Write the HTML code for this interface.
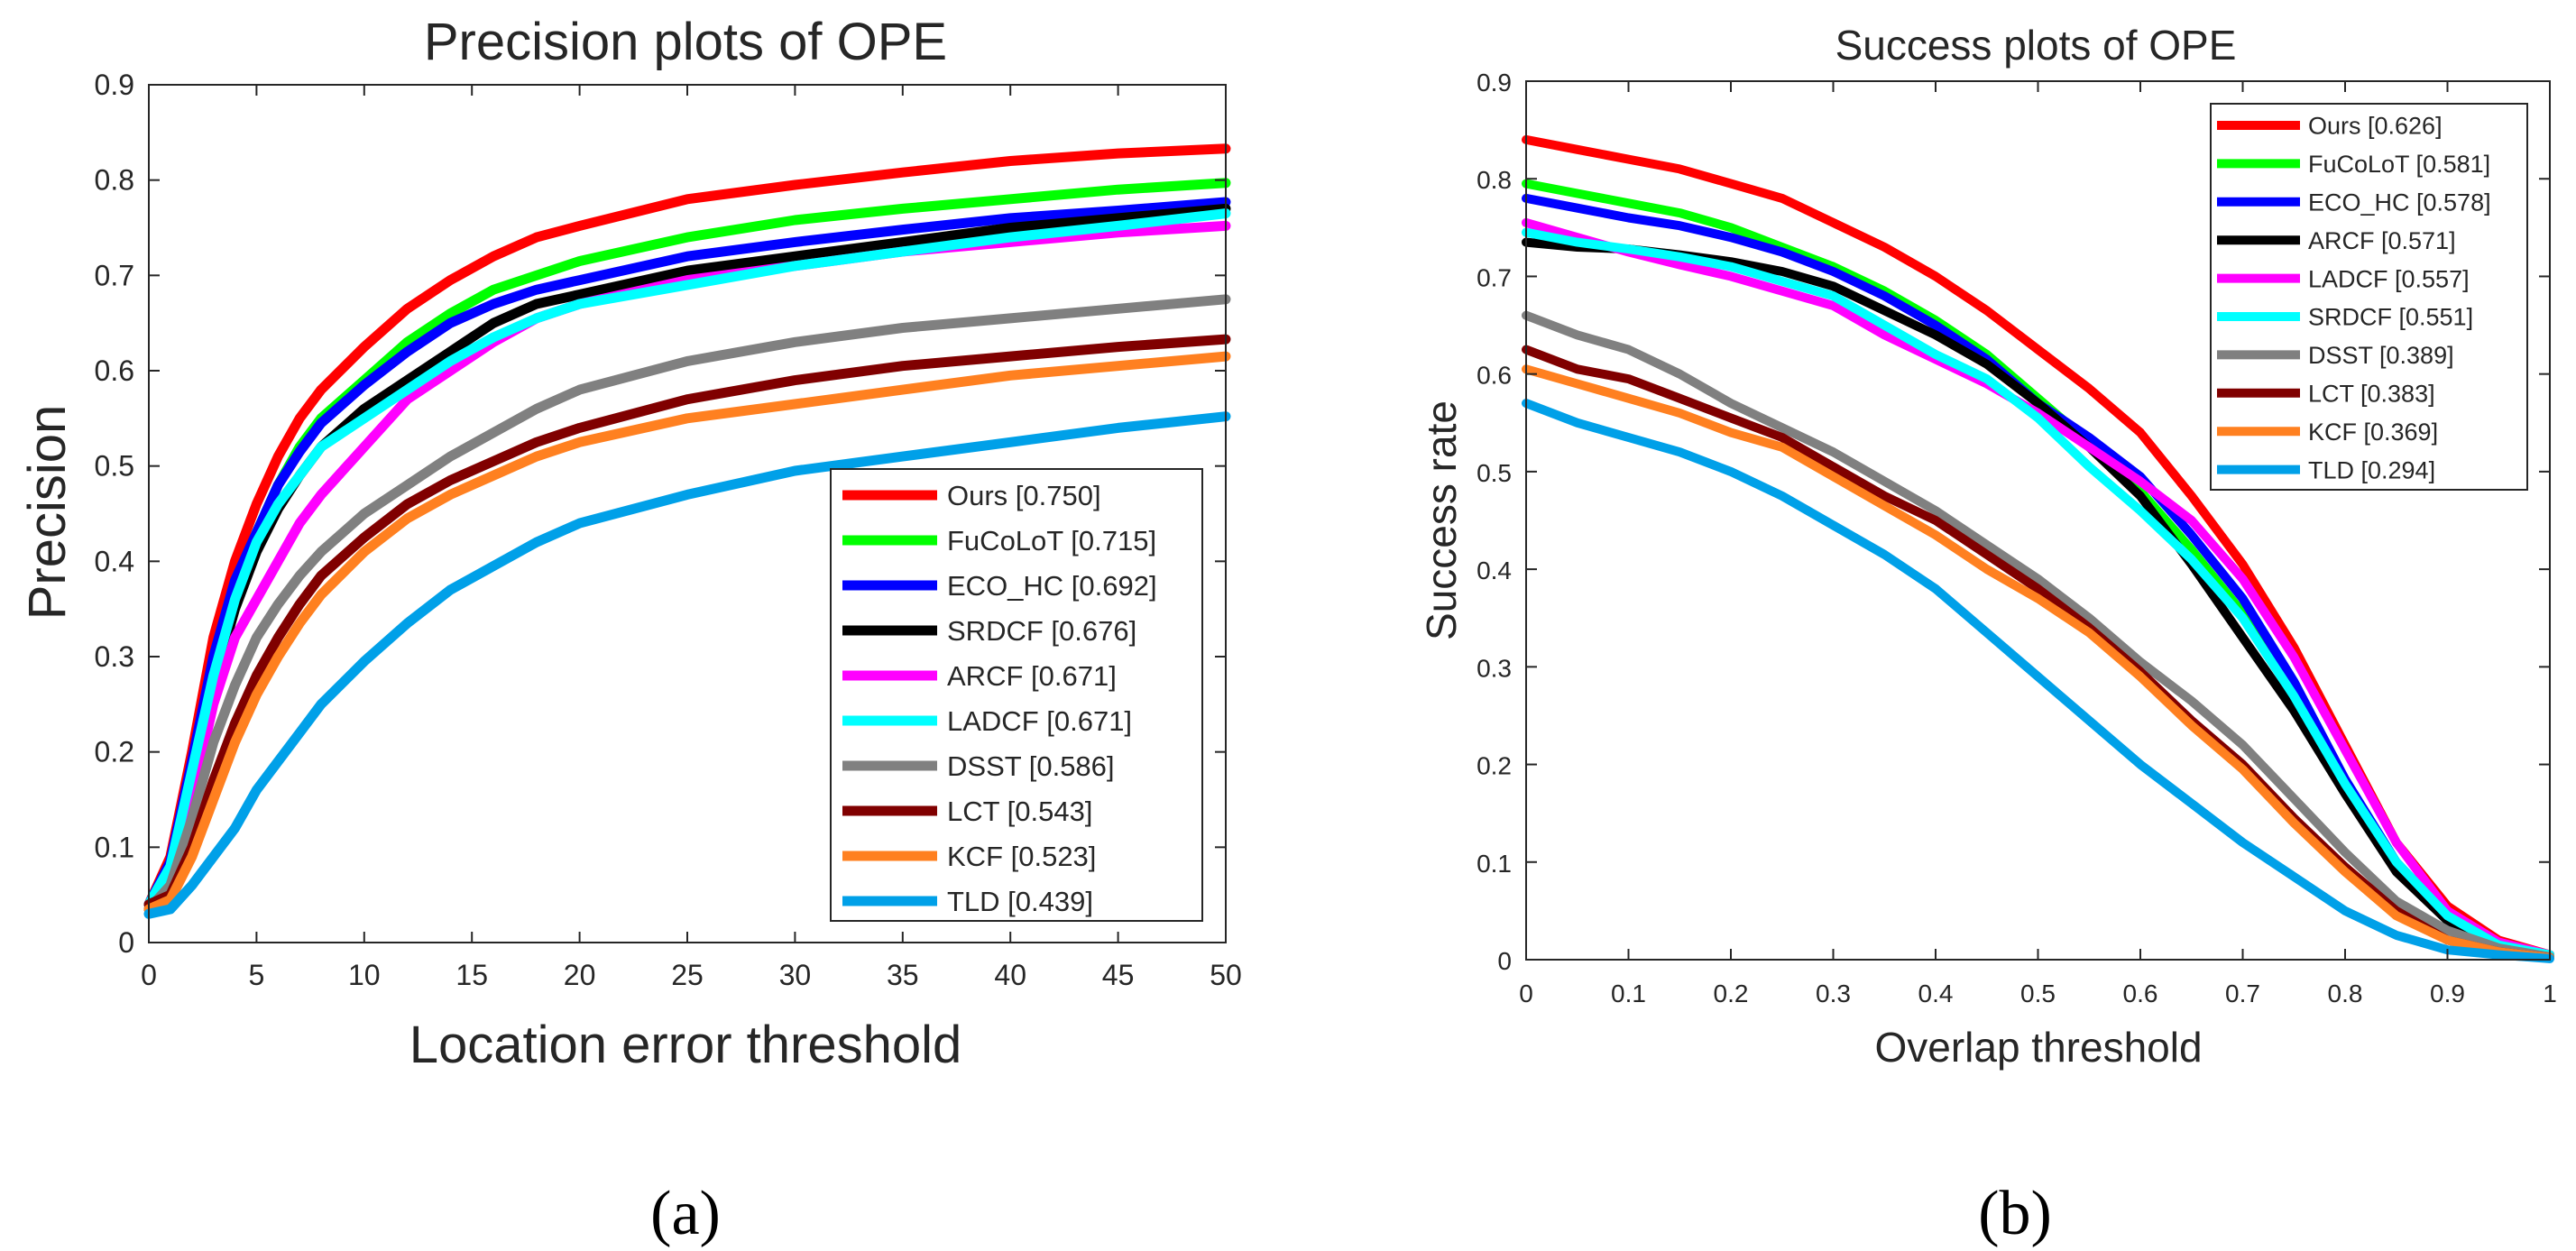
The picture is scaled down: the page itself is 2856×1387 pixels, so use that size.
<!DOCTYPE html>
<html><head><meta charset="utf-8"><style>
html,body{margin:0;padding:0;background:#fff;}
svg{display:block;}
text{font-family:"Liberation Sans",sans-serif;fill:#262626;}
</style></head><body>
<svg id="fig" width="2856" height="1387" viewBox="0 0 2856 1387" xmlns="http://www.w3.org/2000/svg"></svg>
<script>
const precX=[0,1,2,3,4,5,6,7,8,10,12,14,16,18,20,25,30,35,40,45,50];
const precNames=["Ours [0.750]","FuCoLoT [0.715]","ECO_HC [0.692]","SRDCF [0.676]","ARCF [0.671]","LADCF [0.671]","DSST [0.586]","LCT [0.543]","KCF [0.523]","TLD [0.439]"];
const precOurs=[0.04,0.09,0.2,0.32,0.40,0.46,0.51,0.55,0.58,0.625,0.665,0.695,0.72,0.74,0.752,0.78,0.795,0.808,0.82,0.828,0.833];
const precFuCoLoT=[0.035,0.08,0.18,0.29,0.37,0.43,0.48,0.52,0.55,0.59,0.63,0.66,0.685,0.70,0.715,0.74,0.758,0.77,0.78,0.79,0.797];
const precECO=[0.04,0.085,0.19,0.30,0.38,0.43,0.48,0.515,0.545,0.585,0.62,0.65,0.67,0.685,0.695,0.72,0.735,0.748,0.76,0.768,0.777];
const precSRDCF=[0.035,0.07,0.16,0.27,0.35,0.41,0.455,0.49,0.52,0.56,0.59,0.62,0.65,0.67,0.68,0.705,0.72,0.735,0.75,0.76,0.77];
const precARCF=[0.04,0.07,0.15,0.25,0.32,0.36,0.40,0.44,0.47,0.52,0.57,0.60,0.63,0.655,0.67,0.695,0.71,0.725,0.735,0.745,0.752];
const precLADCF=[0.04,0.08,0.18,0.28,0.36,0.42,0.46,0.49,0.52,0.55,0.58,0.61,0.635,0.655,0.67,0.69,0.71,0.725,0.74,0.752,0.765];
const precDSST=[0.035,0.06,0.13,0.21,0.27,0.32,0.355,0.385,0.41,0.45,0.48,0.51,0.535,0.56,0.58,0.61,0.63,0.645,0.655,0.665,0.675];
const precLCT=[0.04,0.05,0.1,0.17,0.23,0.28,0.32,0.355,0.385,0.425,0.46,0.485,0.505,0.525,0.54,0.57,0.59,0.605,0.615,0.625,0.633];
const precKCF=[0.035,0.045,0.09,0.15,0.21,0.26,0.30,0.335,0.365,0.41,0.445,0.47,0.49,0.51,0.525,0.55,0.565,0.58,0.595,0.605,0.615];
const precTLD=[0.03,0.035,0.06,0.09,0.12,0.16,0.19,0.22,0.25,0.295,0.335,0.37,0.395,0.42,0.44,0.47,0.495,0.51,0.525,0.54,0.552];
const precXTicks=[0,5,10,15,20,25,30,35,40,45,50];
const yTicks=[0,0.1,0.2,0.3,0.4,0.5,0.6,0.7,0.8,0.9];

const succX=[0,0.05,0.1,0.15,0.2,0.25,0.3,0.35,0.4,0.45,0.5,0.55,0.6,0.65,0.7,0.75,0.8,0.85,0.9,0.95,1];
const succNames=["Ours [0.626]","FuCoLoT [0.581]","ECO_HC [0.578]","ARCF [0.571]","LADCF [0.557]","SRDCF [0.551]","DSST [0.389]","LCT [0.383]","KCF [0.369]","TLD [0.294]"];
const succOurs=[0.84,0.83,0.82,0.81,0.795,0.78,0.755,0.73,0.70,0.665,0.625,0.585,0.54,0.475,0.405,0.32,0.22,0.12,0.055,0.02,0.005];
const succFuCoLoT=[0.795,0.785,0.775,0.765,0.75,0.73,0.71,0.685,0.655,0.62,0.575,0.53,0.48,0.42,0.355,0.27,0.18,0.095,0.045,0.015,0.005];
const succECO=[0.78,0.77,0.76,0.752,0.74,0.725,0.705,0.68,0.65,0.615,0.57,0.535,0.495,0.435,0.37,0.285,0.185,0.1,0.045,0.015,0.005];
const succARCF=[0.735,0.73,0.728,0.722,0.715,0.705,0.69,0.665,0.64,0.61,0.57,0.525,0.475,0.405,0.33,0.255,0.17,0.09,0.04,0.015,0.005];
const succLADCF=[0.755,0.74,0.725,0.712,0.70,0.685,0.67,0.64,0.615,0.59,0.56,0.525,0.49,0.45,0.39,0.31,0.215,0.12,0.05,0.018,0.005];
const succSRDCF=[0.745,0.735,0.728,0.72,0.71,0.695,0.68,0.65,0.62,0.595,0.555,0.505,0.46,0.41,0.35,0.27,0.18,0.1,0.045,0.015,0.005];
const succDSST=[0.66,0.64,0.625,0.60,0.57,0.545,0.52,0.49,0.46,0.425,0.39,0.35,0.305,0.265,0.22,0.165,0.11,0.06,0.03,0.012,0.003];
const succLCT=[0.625,0.605,0.595,0.575,0.555,0.535,0.505,0.475,0.45,0.415,0.38,0.34,0.295,0.245,0.2,0.145,0.095,0.05,0.02,0.008,0.002];
const succKCF=[0.605,0.59,0.575,0.56,0.54,0.525,0.495,0.465,0.435,0.40,0.37,0.335,0.29,0.24,0.195,0.14,0.09,0.045,0.02,0.008,0.002];
const succTLD=[0.57,0.55,0.535,0.52,0.5,0.475,0.445,0.415,0.38,0.335,0.29,0.245,0.2,0.16,0.12,0.085,0.05,0.025,0.01,0.005,0.001];
const succXTicks=[0,0.1,0.2,0.3,0.4,0.5,0.6,0.7,0.8,0.9,1];

const precColors=["#ff0000","#00ff00","#0000ff","#000000","#ff00ff","#00ffff","#808080","#800000","#ff8020","#00a0e8"];
const succColors=["#ff0000","#00ff00","#0000ff","#000000","#ff00ff","#00ffff","#808080","#800000","#ff8020","#00a0e8"];

const NS="http://www.w3.org/2000/svg";
const svg=document.getElementById('fig');
function mk(tag,attrs,parent,txt){const e=document.createElementNS(NS,tag);for(const k in attrs)e.setAttribute(k,attrs[k]);if(txt!==undefined)e.textContent=txt;(parent||svg).appendChild(e);return e;}

function drawPlot(cfg){
  const g=mk('g',{});
  
  
  const L=cfg.L,R=cfg.R,T=cfg.T,B=cfg.B;
  const sx=v=>L+(v-cfg.xmin)/(cfg.xmax-cfg.xmin)*(R-L);
  const sy=v=>B-(v/0.9)*(B-T);
  // series
  cfg.series.forEach((s,i)=>{
    const pts=cfg.x.map((xv,j)=>sx(xv).toFixed(1)+','+sy(s[j]).toFixed(1)).join(' ');
    const pl=mk('polyline',{points:pts,fill:'none',stroke:cfg.colors[i],'stroke-width':cfg.lw,'stroke-linejoin':'round','stroke-linecap':'round'},g);
    
    
  });
  // box
  const box=mk('rect',{x:L,y:T,width:R-L,height:B-T,fill:'none',stroke:'#262626','stroke-width':2},g);
  
  
  // ticks
  cfg.xticks.forEach(t=>{
    const x=sx(t);
    mk('line',{x1:x,y1:B,x2:x,y2:B-12,stroke:'#262626','stroke-width':2},g);
    mk('line',{x1:x,y1:T,x2:x,y2:T+12,stroke:'#262626','stroke-width':2},g);
    const tl=mk('text',{x:x,y:B+47,'text-anchor':'middle','font-size':cfg.tickFs},g,String(t));
    
    
  });
  yTicks.forEach(t=>{
    const y=sy(t);
    mk('line',{x1:L,y1:y,x2:L+12,y2:y,stroke:'#262626','stroke-width':2},g);
    mk('line',{x1:R,y1:y,x2:R-12,y2:y,stroke:'#262626','stroke-width':2},g);
    const tl=mk('text',{x:L-16,y:y+11,'text-anchor':'end','font-size':cfg.tickFs},g,String(t));
    
    
  });
  const ti=mk('text',{x:cfg.titleX,y:cfg.titleY,'text-anchor':'middle','font-size':cfg.titleFs,fill:'#000'},g,cfg.title);
  
  
  const xl=mk('text',{x:cfg.xlX,y:cfg.xlY,'text-anchor':'middle','font-size':cfg.labelFs},g,cfg.xlabel);
  
  
  const yl=mk('text',{x:0,y:0,'text-anchor':'middle','font-size':cfg.labelFs,transform:'translate('+cfg.ylX+','+cfg.ylY+') rotate(-90)'},g,cfg.ylabel);
  
  
  // legend
  const lg=mk('g',{},g);
  
  
  mk('rect',{x:cfg.lgL,y:cfg.lgT,width:cfg.lgR-cfg.lgL,height:cfg.lgB-cfg.lgT,fill:'#fff',stroke:'#262626','stroke-width':2},lg);
  cfg.names.forEach((n,i)=>{
    const y=cfg.lgY0+i*cfg.lgStep;
    const e=mk('g',{},lg);
    
    
    mk('line',{x1:cfg.lgS1,y1:y,x2:cfg.lgS2,y2:y,stroke:cfg.colors[i],'stroke-width':cfg.lw},e);
    mk('text',{x:cfg.lgTx,y:y+cfg.lgFs*0.36,'font-size':cfg.lgFs},e,n);
  });
}

drawPlot({name:'precision-plot',L:165,R:1359,T:94,B:1045,xmin:0,xmax:50,x:precX,
  series:[precOurs,precFuCoLoT,precECO,precSRDCF,precARCF,precLADCF,precDSST,precLCT,precKCF,precTLD],
  colors:precColors,names:precNames,lw:11,xticks:precXTicks,tickFs:32,
  title:'Precision plots of OPE',titleX:760,titleY:66,titleFs:58,
  xlabel:'Location error threshold',xlX:760,xlY:1178,ylabel:'Precision',ylX:72,ylY:568,labelFs:58,
  lgL:921,lgR:1333,lgT:520,lgB:1021,lgY0:549,lgStep:50,lgS1:934,lgS2:1039,lgTx:1050,lgFs:31});

drawPlot({name:'success-plot',L:1692,R:2827,T:90,B:1064,xmin:0,xmax:1,x:succX,
  series:[succOurs,succFuCoLoT,succECO,succARCF,succLADCF,succSRDCF,succDSST,succLCT,succKCF,succTLD],
  colors:succColors,names:succNames,lw:10,xticks:succXTicks,tickFs:28,
  title:'Success plots of OPE',titleX:2257,titleY:66,titleFs:46,
  xlabel:'Overlap threshold',xlX:2260,xlY:1177,ylabel:'Success rate',ylX:1614,ylY:577,labelFs:46,
  lgL:2451,lgR:2802,lgT:115,lgB:543,lgY0:139,lgStep:42.4,lgS1:2458,lgS2:2550,lgTx:2559,lgFs:27});

const ca=mk('text',{x:760,y:1388-20,'text-anchor':'middle','font-size':70,style:'font-family:"Liberation Serif",serif;fill:#000'},svg,'(a)');


const cb=mk('text',{x:2234,y:1388-20,'text-anchor':'middle','font-size':70,style:'font-family:"Liberation Serif",serif;fill:#000'},svg,'(b)');


</script>
</body></html>
